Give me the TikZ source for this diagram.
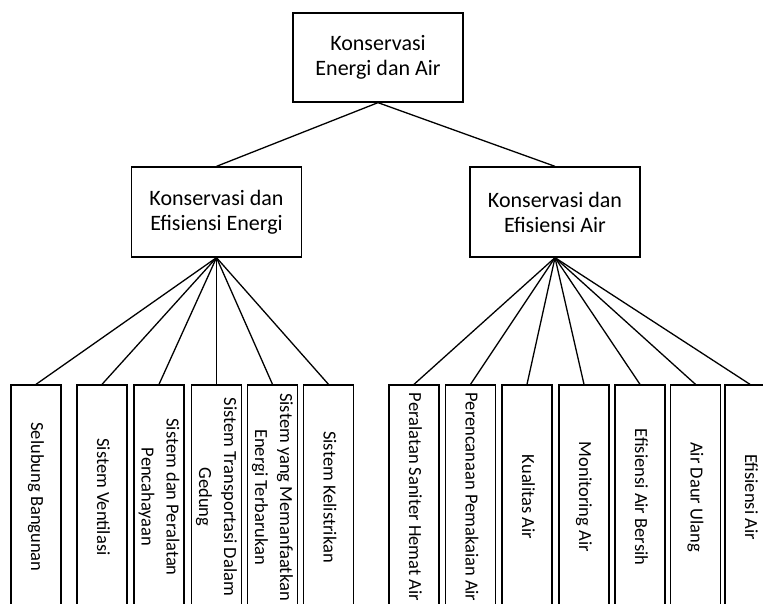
\documentclass[tikz,border=0pt]{standalone}
\usepackage{fontspec}
\usepackage{graphicx}
\setmainfont{Carlito}
\newcommand{\leaftext}[1]{\rotatebox{-90}{\fontsize{18.5}{25}\selectfont\begin{tabular}{@{}c@{}}#1\end{tabular}}}
\begin{document}
\begin{tikzpicture}[x=1pt,y=-1pt,
  box/.style={draw=black,line width=1.3pt,inner sep=0pt,align=center,font=\fontsize{22}{25}\selectfont},
  topbox/.style={box,minimum width=170pt,minimum height=89pt},
  midbox/.style={box,minimum width=170pt,minimum height=90pt},
  leafbox/.style={draw=black,line width=1.3pt,inner sep=0pt,minimum width=50pt,minimum height=224pt},
  conn/.style={draw=black,line width=1.3pt}]
\clip (0,0) rectangle (763,604);
\fill[white] (0,0) rectangle (763,604);
\node[topbox] (root) at (378,57.5) {Konservasi\\Energi dan Air};
\node[midbox] (en) at (216.5,212) {Konservasi dan\\Efisiensi Energi};
\node[midbox] (ai) at (555,212) {Konservasi dan\\Efisiensi Air};
% energy leaves
\node[leafbox] (e1) at (36,497) {\leaftext{Selubung Bangunan}};
\node[leafbox] (e2) at (102,497) {\leaftext{Sistem Ventilasi}};
\node[leafbox] (e3) at (159,497) {\leaftext{Sistem dan Peralatan\\Pencahayaan}};
\node[leafbox] (e4) at (216.5,497) {\leaftext{Sistem Transportasi Dalam\\Gedung}};
\node[leafbox] (e5) at (272.5,497) {\leaftext{Sistem yang Memanfaatkan\\Energi Terbarukan}};
\node[leafbox] (e6) at (328.5,497) {\leaftext{Sistem Kelistrikan}};
% water leaves
\node[leafbox] (a1) at (414,497) {\leaftext{Peralatan Saniter Hemat Air}};
\node[leafbox] (a2) at (470.5,497) {\leaftext{Perencanaan Pemakaian Air}};
\node[leafbox] (a3) at (527,497) {\leaftext{Kualitas Air}};
\node[leafbox] (a4) at (584,497) {\leaftext{Monitoring Air}};
\node[leafbox] (a5) at (640,497) {\leaftext{Efisiensi Air Bersih}};
\node[leafbox] (a6) at (695.5,497) {\leaftext{Air Daur Ulang}};
\node[leafbox] (a7) at (750,497) {\leaftext{Efisiensi Air}};
% connectors
\draw[conn] (root.south) -- (en.north);
\draw[conn] (root.south) -- (ai.north);
\foreach \n in {e1,e2,e3,e4,e5,e6} \draw[conn] (en.south) -- (\n.north);
\foreach \n in {a1,a2,a3,a4,a5,a6,a7} \draw[conn] (ai.south) -- (\n.north);
\end{tikzpicture}
\end{document}
